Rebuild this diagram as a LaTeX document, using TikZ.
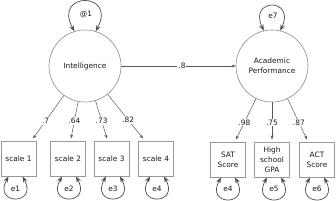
\documentclass[tikz,border=0pt]{standalone}
\usepackage{fontspec}
\setmainfont{DejaVu Sans}
\usetikzlibrary{arrows.meta,calc}
\begin{document}
\begin{tikzpicture}[x=1pt,y=1pt,
  font=\fontsize{7.4}{10}\selectfont,
  latent/.style={circle,draw=black!45,line width=0.6pt,minimum size=72pt,inner sep=0pt,align=center,text=black!90},
  observed/.style={rectangle,draw=black!40,line width=1pt,minimum size=35pt,inner sep=0pt,align=center,text=black!90},
  pathar/.style={draw=black!65,line width=0.5pt,-{Stealth[length=4pt,width=3pt]}},
  looparr/.style={draw=black!70,line width=0.7pt,{Stealth[length=6pt,width=4.5pt]}-{Stealth[length=6pt,width=4.5pt]}},
  coef/.style={fill=white,inner sep=1pt,text=black!90},
  errlab/.style={inner sep=0pt,text=black!90}]
\useasboundingbox (0,0) rectangle (336,-200);
% latent variables
\node[latent] (I) at (85,-66) {Intelligence};
\node[latent] (A) at (272,-66) {Academic\\Performance};
% observed variables
\node[observed] (s1) at (18.5,-158.5) {scale 1};
\node[observed] (s2) at (68,-158.5) {scale 2};
\node[observed] (s3) at (111.5,-158.5) {scale 3};
\node[observed] (s4) at (156,-158.5) {scale 4};
\node[observed] (sat) at (228,-159.5) {SAT\\Score};
\node[observed] (gpa) at (272,-159.5) {High\\school\\GPA};
\node[observed] (act) at (317,-159.5) {ACT\\Score};
% structural path
\draw[pathar] (I) -- node[coef,pos=.53]{.8} (A);
% loadings
\draw[pathar] (I) -- node[coef,pos=.59]{.7} ([xshift=14.5pt,yshift=2pt]s1.north);
\draw[pathar] (I) -- node[coef,pos=.52]{.64} ([xshift=3pt,yshift=2pt]s2.north);
\draw[pathar] (I) -- node[coef,pos=.53]{.73} ([xshift=-4.5pt,yshift=2pt]s3.north);
\draw[pathar] (I) -- node[coef,pos=.58]{.82} ([xshift=-13pt,yshift=2pt]s4.north);
\draw[pathar] (A) -- node[coef,pos=.58]{.98} ([xshift=8pt,yshift=2pt]sat.north);
\draw[pathar] (A) -- node[coef,pos=.54]{.75} ([yshift=2pt]gpa.north);
\draw[pathar] (A) -- node[coef,pos=.58]{.87} ([xshift=-10pt,yshift=2pt]act.north);
% variance loops
\draw[looparr] (I.107) .. controls +(-22,40) and +(22,40) .. (I.73);
\node[errlab] (v1) at (86,-14) {@1};
\draw[looparr] (A.103) .. controls +(-16,33) and +(16,33) .. (A.77);
\node[errlab] (v7) at (273,-16) {e7};
% error loops
\draw[looparr] ([xshift=-10pt]s1.south) .. controls +(-16,-29) and +(16,-29) .. ([xshift=4pt]s1.south);
\node[errlab] (e1) at (15.5,-189) {e1};
\draw[looparr] ([xshift=-6pt]s2.south) .. controls +(-16,-29) and +(16,-29) .. ([xshift=8pt]s2.south);
\node[errlab] (e2) at (69,-189) {e2};
\draw[looparr] ([xshift=-5.5pt]s3.south) .. controls +(-16,-29) and +(16,-29) .. ([xshift=8.5pt]s3.south);
\node[errlab] (e3) at (113,-189) {e3};
\draw[looparr] ([xshift=-6pt]s4.south) .. controls +(-16,-29) and +(16,-29) .. ([xshift=8pt]s4.south);
\node[errlab] (e4) at (157,-189) {e4};
\draw[looparr] ([xshift=-7pt]sat.south) .. controls +(-16,-29) and +(16,-29) .. ([xshift=7pt]sat.south);
\node[errlab] (e4b) at (228,-189) {e4};
\draw[looparr] ([xshift=-5pt]gpa.south) .. controls +(-16,-29) and +(16,-29) .. ([xshift=9pt]gpa.south);
\node[errlab] (e5) at (274,-189) {e5};
\draw[looparr] ([xshift=-7pt]act.south) .. controls +(-16,-29) and +(16,-29) .. ([xshift=7pt]act.south);
\node[errlab] (e6) at (317,-189) {e6};
\end{tikzpicture}
\end{document}
